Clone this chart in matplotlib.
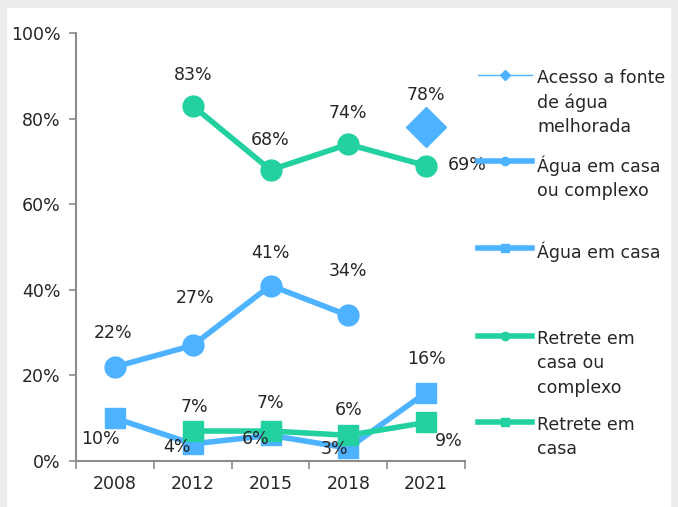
import matplotlib
matplotlib.use('Agg')
import matplotlib.pyplot as plt
from matplotlib.lines import Line2D
from matplotlib.patches import Rectangle
import numpy as np

# data
years = ['2008', '2012', '2015', '2018', '2021']
acesso_fonte = [None, None, None, None, 78]
agua_casa_complexo = [22, 27, 41, 34, None]
agua_casa = [10, 4, 6, 3, 16]
retrete_casa_complexo = [None, 83, 68, 74, 69]
retrete_casa = [None, 7, 7, 6, 9]

legend_labels = ['Acesso a fonte\nde água\nmelhorada',
                 'Água em casa\nou complexo',
                 'Água em casa',
                 'Retrete em\ncasa ou\ncomplexo',
                 'Retrete em\ncasa']

blue = '#4DB2FF'
green = '#22D19F'
axis_gray = '#8C8C8C'
txt = '#262626'
fs = 12.5

plt.rcParams['font.family'] = ['DejaVu Sans']

fig = plt.figure(figsize=(6.78, 5.07), dpi=100)
fig.patch.set_facecolor('#EDEDED')
fig.patches.append(Rectangle((7 / 678, 0), 664 / 678, 499 / 507,
                             transform=fig.transFigure, facecolor='white',
                             edgecolor='none', zorder=-5))
ax = fig.add_axes([76 / 678, 1 - 461 / 507, 389 / 678, 428 / 507])
ax.set_facecolor('none')

x = np.arange(len(years))


def arr(v):
    return np.array([np.nan if a is None else a for a in v], dtype=float)


ax.plot(x, arr(acesso_fonte), color=blue, lw=1, marker='D', ms=20, zorder=3)
ax.plot(x, arr(agua_casa_complexo), color=blue, lw=4, marker='o', ms=15, zorder=3)
ax.plot(x, arr(agua_casa), color=blue, lw=4, marker='s', ms=14.5, zorder=3)
ax.plot(x, arr(retrete_casa_complexo), color=green, lw=4, marker='o', ms=15, zorder=4)
ax.plot(x, arr(retrete_casa), color=green, lw=4, marker='s', ms=14.5, zorder=4)


def labels(vals, offsets):
    for i, v in enumerate(vals):
        if v is None:
            continue
        dx, dy = offsets[i]
        ax.annotate(f'{v}%', (x[i], v), xytext=(dx, dy), textcoords='offset pixels',
                    ha='center', va='center', fontsize=fs, color=txt, zorder=6)


labels(acesso_fonte, [None] * 4 + [(0, 32)])
labels(agua_casa_complexo, [(-2, 34), (2, 47), (0, 33), (0, 44), None])
labels(agua_casa, [(-14, -21), (-16, -3), (-15, -4), (-14, -1), (0, 34)])
labels(retrete_casa_complexo, [None, (0, 31), (0, 30), (0, 31), (41, 1)])
labels(retrete_casa, [None, (2, 24), (0, 28), (0, 25), (23, -19)])

ax.set_xlim(-0.5, len(years) - 0.5)
ax.set_ylim(0, 100)
ax.set_yticks(np.arange(0, 101, 20))
ax.set_yticklabels([f'{t}%' for t in range(0, 101, 20)])
ax.set_xticks(x)
ax.set_xticklabels(years)
ax.set_xticks(np.arange(-0.5, len(years), 1), minor=True)
ax.tick_params(axis='x', which='major', length=0, pad=10, labelsize=fs, labelcolor=txt)
ax.tick_params(axis='x', which='minor', length=6, width=1.2, color=axis_gray, direction='out')
ax.tick_params(axis='y', length=5, width=1.2, color=axis_gray, pad=6, labelsize=fs, labelcolor=txt)
for s in ['top', 'right']:
    ax.spines[s].set_visible(False)
for s in ['left', 'bottom']:
    ax.spines[s].set_color(axis_gray)
    ax.spines[s].set_linewidth(1.5)

handles = [
    Line2D([], [], color=blue, lw=1, marker='D', ms=5),
    Line2D([], [], color=blue, lw=4, marker='o', ms=6),
    Line2D([], [], color=blue, lw=4, marker='s', ms=6),
    Line2D([], [], color=green, lw=4, marker='o', ms=6),
    Line2D([], [], color=green, lw=4, marker='s', ms=6),
]
entry_top = [69, 155, 242, 330, 416]
for h, lab, top in zip(handles, legend_labels, entry_top):
    leg = fig.legend([h], [lab], loc='upper left',
                     bbox_to_anchor=(478 / 678, 1 - top / 507), frameon=False,
                     fontsize=fs, handlelength=3.1, handletextpad=0.3,
                     borderpad=0, borderaxespad=0)
    for t in leg.get_texts():
        t.set_color(txt)
        t.set_linespacing(1.45)
    for col in leg._legend_handle_box.get_children():
        for item in col.get_children():
            item.align = 'top'

fig.savefig('out.png', dpi=100, facecolor=fig.get_facecolor())
